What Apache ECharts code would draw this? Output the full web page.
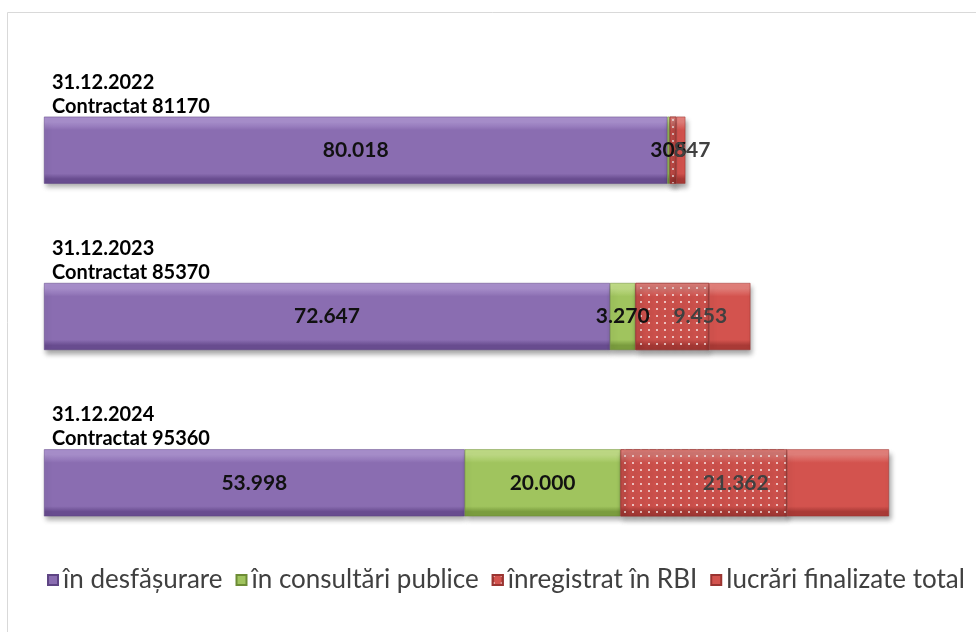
<!DOCTYPE html>
<html>
<head>
<meta charset="utf-8">
<script src="https://cdn.jsdelivr.net/npm/echarts@6/dist/echarts.min.js"></script>
<style>
  html, body { margin: 0; padding: 0; background: #fff; }
  #chart { width: 976px; height: 632px; }
</style>
</head>
<body>
<div id="chart"></div>
<script>
// categories (top to bottom)
const categories = ['31.12.2022\nContractat 81170', '31.12.2023\nContractat 85370', '31.12.2024\nContractat 95360'];
const seriesNames = ['în desfășurare', 'în consultări publice', 'înregistrat în RBI', 'lucrări finalizate total'];

const inProgress = [80018, 72647, 53998];
const publicConsult = [305, 3270, 20000];
const registeredRBI = [847, 9453, 21362];
const finishedTotal = [1150, 5300, 13100];

// labels of the dotted series sit a bit right of centre in the original
const rbiLabelShift = [19, 28, 32];

function fmt(v) {
  return String(v).replace(/\B(?=(\d{3})+(?!\d))/g, '.');
}

function bevel(light, base, dark) {
  return {
    type: 'linear', x: 0, y: 0, x2: 0, y2: 1,
    colorStops: [
      { offset: 0, color: light },
      { offset: 0.08, color: light },
      { offset: 0.2, color: base },
      { offset: 0.85, color: base },
      { offset: 0.93, color: dark },
      { offset: 1, color: dark }
    ]
  };
}

const shadow = {
  shadowColor: 'rgba(0,0,0,0.35)',
  shadowBlur: 5,
  shadowOffsetX: 2,
  shadowOffsetY: 4
};

const labelFont = { fontFamily: 'Lato', fontWeight: 'bold', fontSize: 21 };

const chart = echarts.init(document.getElementById('chart'));

const option = {
  backgroundColor: '#fff',
  animation: false,
  graphic: [{
    type: 'rect',
    left: 5, top: 10,
    shape: { width: 1000, height: 700 },
    style: { fill: 'none', stroke: '#d9d9d9', lineWidth: 1 },
    silent: true
  }],
  grid: { left: 44, right: 75, top: 67, bottom: 66, containLabel: false },
  legend: {
    left: 47,
    top: 567,
    width: 940,
    padding: 0,
    itemWidth: 10,
    itemHeight: 10,
    itemGap: 13,
    icon: 'rect',
    textStyle: { fontFamily: 'Lato', fontSize: 26, color: '#404040' },
    data: seriesNames
  },
  xAxis: {
    type: 'value',
    min: 0,
    max: 110000,
    show: false
  },
  yAxis: {
    type: 'category',
    inverse: true,
    data: categories,
    axisLine: { show: false },
    axisTick: { show: false },
    splitLine: { show: false },
    axisLabel: {
      inside: true,
      align: 'left',
      verticalAlign: 'bottom',
      margin: 8,
      padding: [0, 0, 32, 0],
      lineHeight: 24,
      color: '#000',
      fontFamily: 'Lato',
      fontWeight: 'bold',
      fontSize: 20
    }
  },
  series: [
    {
      name: seriesNames[0],
      type: 'bar',
      stack: 'total',
      barWidth: 67,
      data: inProgress,
      itemStyle: Object.assign({ color: bevel('#a990cd', '#8a6db1', '#684c8f'), borderColor: '#5e4584', borderWidth: 0.5 }, shadow),
      label: Object.assign({ show: true, position: 'inside', color: '#111', formatter: p => fmt(p.value) }, labelFont)
    },
    {
      name: seriesNames[1],
      type: 'bar',
      stack: 'total',
      data: publicConsult,
      itemStyle: Object.assign({ color: bevel('#c0dc86', '#a0c45e', '#7a9c3e'), borderColor: '#6d8c36', borderWidth: 0.5 }, shadow),
      label: Object.assign({ show: true, position: 'inside', color: '#111', formatter: p => fmt(p.value) }, labelFont)
    },
    {
      name: seriesNames[2],
      type: 'bar',
      stack: 'total',
      data: registeredRBI.map((v, i) => ({
        value: v,
        label: { offset: [rbiLabelShift[i], 0] }
      })),
      itemStyle: Object.assign({
        color: bevel('#e4807b', '#d3534e', '#a93a36'),
        borderColor: '#9a3431',
        borderWidth: 0.5,
        decal: {
          symbol: 'circle',
          symbolSize: 1,
          color: 'rgba(255,255,255,0.85)',
          dashArrayX: [2, 6],
          dashArrayY: [2, 5]
        }
      }, shadow),
      label: Object.assign({ show: true, position: 'inside', color: '#404040', formatter: p => fmt(p.value) }, labelFont)
    },
    {
      name: seriesNames[3],
      type: 'bar',
      stack: 'total',
      data: finishedTotal,
      itemStyle: Object.assign({ color: bevel('#e4807b', '#d3534e', '#a93a36'), borderColor: '#9a3431', borderWidth: 0.5 }, shadow),
      label: { show: false }
    }
  ]
};

chart.setOption(option);
</script>
</body>
</html>
